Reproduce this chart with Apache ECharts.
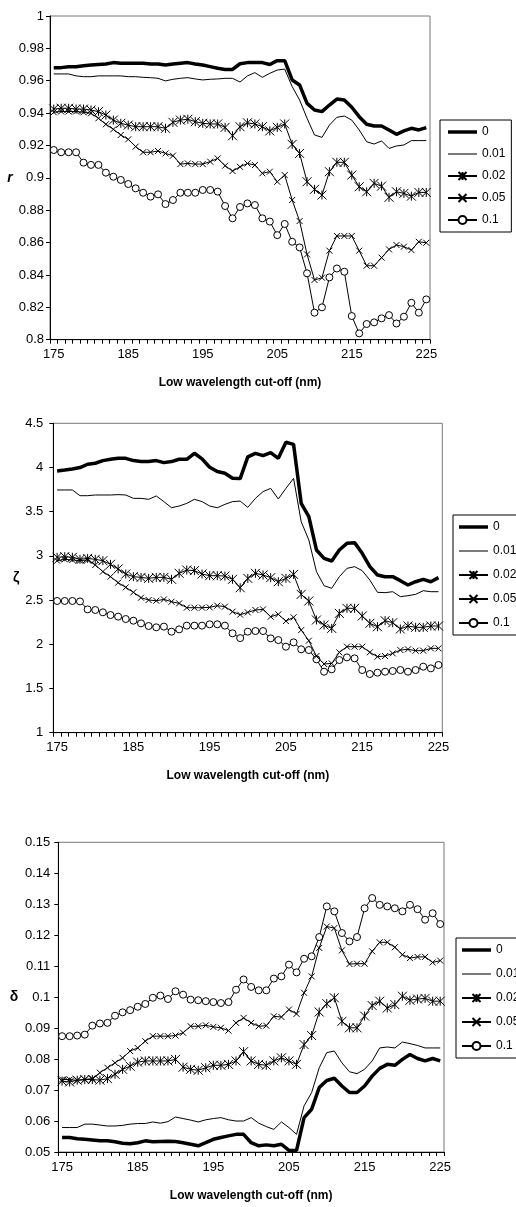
<!DOCTYPE html>
<html><head><meta charset="utf-8">
<script src="https://cdn.jsdelivr.net/npm/echarts@6/dist/echarts.min.js"></script>
<style>
html,body{margin:0;padding:0;background:#fff;overflow:hidden;}
.ch{position:absolute;left:0;width:516px;}
#c1{top:0;height:395px;}
#c2{top:395px;height:395px;}
#c3{top:790px;height:417px;}
</style></head><body>
<div id="c1" class="ch"></div><div id="c2" class="ch"></div><div id="c3" class="ch"></div>
<script>
const categories = ['175','176','177','178','179','180','181','182','183','184','185','186','187','188','189','190','191','192','193','194','195','196','197','198','199','200','201','202','203','204','205','206','207','208','209','210','211','212','213','214','215','216','217','218','219','220','221','222','223','224','225'];
const seriesNames = ['0','0.01','0.02','0.05','0.1'];
const xTitle = 'Low wavelength cut-off (nm)';

// Chart 1: r
const r_0 = [0.9681,0.9681,0.9687,0.9687,0.9693,0.9697,0.9701,0.9703,0.9712,0.9708,0.9708,0.9708,0.9708,0.9703,0.9703,0.9697,0.9703,0.9708,0.9712,0.9703,0.9697,0.9687,0.9677,0.967,0.967,0.9705,0.9712,0.9712,0.9712,0.970,0.9724,0.9724,0.9605,0.9574,0.946,0.9419,0.9409,0.945,0.9487,0.9481,0.9436,0.9378,0.9331,0.932,0.932,0.9296,0.9269,0.929,0.9306,0.9296,0.931];
const r_001 = [0.9642,0.9642,0.9642,0.963,0.9625,0.9625,0.963,0.963,0.963,0.963,0.9625,0.9625,0.9621,0.9619,0.9615,0.9599,0.9609,0.9615,0.9619,0.9611,0.9605,0.9609,0.9611,0.9615,0.9615,0.9592,0.963,0.965,0.9621,0.9646,0.9666,0.9672,0.9564,0.9481,0.9368,0.9265,0.925,0.9326,0.9374,0.9382,0.9357,0.9296,0.9223,0.9209,0.9228,0.9182,0.9197,0.9203,0.923,0.923,0.923];
const r_002 = [0.9425,0.943,0.943,0.9425,0.9425,0.9419,0.9409,0.9388,0.9357,0.9337,0.9326,0.9316,0.9316,0.9316,0.9316,0.9306,0.9343,0.9357,0.9362,0.9347,0.9337,0.9333,0.9333,0.9312,0.926,0.9316,0.934,0.9333,0.9316,0.929,0.9312,0.9333,0.9207,0.9151,0.8976,0.8929,0.8894,0.9038,0.9096,0.9096,0.9017,0.8945,0.8914,0.8966,0.8949,0.888,0.8914,0.8904,0.8887,0.891,0.891];
const r_005 = [0.9405,0.941,0.941,0.941,0.9405,0.9399,0.9368,0.9331,0.93,0.9265,0.9238,0.9193,0.9158,0.9158,0.9166,0.9151,0.9137,0.9085,0.9089,0.9085,0.9085,0.91,0.912,0.9075,0.9042,0.9068,0.9089,0.9079,0.9028,0.9038,0.8976,0.9017,0.8863,0.8733,0.8527,0.8369,0.8383,0.855,0.8641,0.8641,0.8641,0.855,0.8457,0.8457,0.8507,0.8558,0.8585,0.8575,0.8554,0.8605,0.8599];
const r_01 = [0.9172,0.9158,0.9158,0.9158,0.9094,0.908,0.908,0.9032,0.9007,0.8987,0.8962,0.8935,0.8908,0.8884,0.8898,0.8838,0.8863,0.8908,0.8908,0.8908,0.8925,0.8925,0.8915,0.8826,0.875,0.882,0.8842,0.8832,0.875,0.873,0.8646,0.8715,0.8605,0.857,0.841,0.8167,0.82,0.8385,0.844,0.842,0.8146,0.8039,0.8097,0.8107,0.8132,0.8152,0.81,0.8142,0.8228,0.8167,0.8249];

// Chart 2: zeta
const z_0 = [3.961,3.972,3.984,3.999,4.037,4.048,4.078,4.093,4.104,4.104,4.078,4.067,4.067,4.078,4.055,4.067,4.093,4.093,4.161,4.097,4.003,3.954,3.935,3.878,3.875,4.12,4.16,4.134,4.168,4.104,4.285,4.262,3.595,3.444,3.067,2.972,2.942,3.067,3.142,3.15,3.029,2.878,2.784,2.765,2.765,2.72,2.671,2.708,2.735,2.708,2.754];
const z_001 = [3.746,3.746,3.746,3.681,3.681,3.689,3.689,3.689,3.693,3.689,3.651,3.651,3.64,3.678,3.614,3.545,3.564,3.594,3.64,3.614,3.564,3.545,3.583,3.614,3.62,3.549,3.651,3.727,3.764,3.644,3.764,3.877,3.387,3.18,2.822,2.663,2.633,2.765,2.859,2.878,2.833,2.727,2.588,2.584,2.595,2.539,2.55,2.565,2.606,2.595,2.595];
const z_002 = [2.984,2.991,2.984,2.961,2.972,2.961,2.946,2.905,2.852,2.795,2.765,2.757,2.746,2.757,2.757,2.735,2.803,2.84,2.833,2.795,2.776,2.776,2.772,2.735,2.64,2.746,2.803,2.784,2.754,2.708,2.746,2.791,2.565,2.49,2.275,2.218,2.18,2.35,2.407,2.407,2.32,2.237,2.199,2.267,2.244,2.173,2.207,2.192,2.192,2.207,2.207];
const z_005 = [2.946,2.961,2.954,2.946,2.954,2.897,2.822,2.765,2.697,2.644,2.588,2.527,2.501,2.493,2.508,2.482,2.463,2.414,2.414,2.414,2.418,2.437,2.426,2.369,2.335,2.361,2.388,2.395,2.312,2.339,2.263,2.305,2.161,2.041,1.867,1.777,1.784,1.909,1.973,1.973,1.973,1.909,1.86,1.867,1.897,1.935,1.943,1.928,1.928,1.954,1.954];
const z_01 = [2.49,2.49,2.49,2.485,2.395,2.388,2.362,2.331,2.313,2.286,2.267,2.237,2.207,2.192,2.2,2.143,2.169,2.211,2.211,2.211,2.226,2.226,2.211,2.124,2.07,2.143,2.15,2.15,2.067,2.048,1.973,2.022,1.943,1.935,1.83,1.69,1.717,1.822,1.852,1.841,1.709,1.664,1.679,1.69,1.698,1.709,1.69,1.709,1.747,1.728,1.766];

// Chart 3: delta
const d_0 = [0.0547,0.0547,0.0543,0.0541,0.0539,0.0536,0.0536,0.0533,0.0528,0.0527,0.053,0.0536,0.0533,0.0534,0.0535,0.0534,0.053,0.0525,0.052,0.053,0.0541,0.0547,0.0552,0.0557,0.0557,0.053,0.052,0.0523,0.052,0.0525,0.0505,0.0505,0.0611,0.0638,0.0708,0.0731,0.0738,0.0713,0.0692,0.0692,0.0713,0.0745,0.077,0.0783,0.078,0.0799,0.0815,0.0802,0.0794,0.0802,0.0794];
const d_001 = [0.0579,0.0579,0.0579,0.059,0.059,0.0587,0.0584,0.0584,0.0586,0.059,0.0592,0.0592,0.0597,0.0593,0.0598,0.0613,0.0608,0.0603,0.0597,0.0604,0.0608,0.0611,0.0604,0.06,0.06,0.0611,0.0593,0.0582,0.0573,0.0597,0.0579,0.0557,0.0649,0.0692,0.0772,0.0821,0.0826,0.0788,0.0759,0.0753,0.0767,0.0794,0.0836,0.0839,0.0836,0.0855,0.085,0.0844,0.0836,0.0836,0.0836];
const d_002 = [0.0729,0.0726,0.0732,0.0734,0.0734,0.0732,0.0737,0.0751,0.0767,0.0777,0.079,0.0794,0.0794,0.0794,0.0794,0.0799,0.0774,0.0767,0.0764,0.0772,0.078,0.078,0.0783,0.0794,0.0824,0.0794,0.0783,0.078,0.0794,0.0804,0.0794,0.0783,0.0847,0.0876,0.0952,0.0979,0.0998,0.0922,0.0901,0.0901,0.0939,0.0973,0.0987,0.0965,0.0976,0.1003,0.099,0.0994,0.0996,0.0987,0.0987];
const d_005 = [0.0734,0.0734,0.0731,0.0734,0.0737,0.0756,0.0772,0.0788,0.0804,0.0826,0.0836,0.0858,0.0874,0.0874,0.0874,0.0876,0.0885,0.0906,0.0906,0.0909,0.0904,0.0901,0.0892,0.0917,0.0933,0.0917,0.0906,0.0908,0.0938,0.0936,0.096,0.0946,0.1014,0.1067,0.1159,0.1228,0.1223,0.1151,0.1107,0.1108,0.1108,0.1148,0.1177,0.1177,0.1161,0.1137,0.1126,0.113,0.113,0.1112,0.1118];
const d_01 = [0.0874,0.0874,0.0876,0.0879,0.0908,0.0915,0.0917,0.094,0.0951,0.0958,0.0969,0.0978,0.0998,0.1005,0.0994,0.1019,0.1008,0.0992,0.099,0.0987,0.0984,0.0981,0.0984,0.1024,0.1057,0.1033,0.1022,0.1022,0.106,0.1067,0.1105,0.108,0.1124,0.1132,0.1194,0.1293,0.1277,0.1207,0.118,0.1194,0.1287,0.132,0.1298,0.1293,0.1287,0.1277,0.1298,0.1284,0.125,0.1271,0.1236];

const FONT = 'Liberation Sans, Arial, sans-serif';
const ASTER = 'path://M0,0L10,10M0,10L10,0M5,0L5,10';
const XMARK = 'path://M0,0L10,10M0,10L10,0';
const THICK_ICON = 'path://M0,0L100,0L100,12L0,12Z';
const THIN_ICON = 'path://M0,0L100,0L100,3.6L0,3.6Z';

function buildSeries(values, thick) {
  const styles = [
    {lw: thick, symbol: 'none', size: 0},
    {lw: 1, symbol: 'none', size: 0},
    {lw: 1, symbol: ASTER, size: 9},
    {lw: 1, symbol: XMARK, size: 6},
    {lw: 1, symbol: 'circle', size: 7}
  ];
  return values.map((v, k) => {
    const st = styles[k];
    const circle = st.symbol === 'circle';
    return {
      type: 'line', name: seriesNames[k], data: v,
      symbol: st.symbol, symbolSize: st.size, showSymbol: st.symbol !== 'none', showAllSymbol: true,
      lineStyle: {color: '#000', width: st.lw},
      itemStyle: {color: circle ? '#fff' : '#000', borderColor: '#000', borderWidth: 1},
      emphasis: {disabled: true}, silent: true, z: 10 - k
    };
  });
}

function legendData() {
  return [
    {name: seriesNames[0], icon: THICK_ICON, itemStyle: {color: '#000', borderWidth: 0}},
    {name: seriesNames[1], icon: THIN_ICON, itemStyle: {color: '#000', borderWidth: 0}},
    seriesNames[2], seriesNames[3], seriesNames[4]
  ];
}

function makeOption(cfg) {
  return {
    animation: false,
    backgroundColor: '#fff',
    textStyle: {fontFamily: FONT},
    grid: {left: cfg.gl, top: cfg.gt, width: cfg.gw, height: cfg.gh, show: true, borderColor: '#777', borderWidth: 1},
    legend: {
      orient: 'vertical', left: cfg.ll, top: cfg.lt, data: legendData(),
      itemWidth: 29, itemHeight: 10, itemGap: cfg.lgap, padding: cfg.lpad,
      borderColor: '#000', borderWidth: 1, backgroundColor: '#fff',
      textStyle: {fontFamily: FONT, fontSize: 12, color: '#000'}, selectedMode: false
    },
    xAxis: {
      type: 'category', data: categories, boundaryGap: true,
      axisLine: {lineStyle: {color: '#000', width: 1}},
      axisTick: {show: true, interval: 0, length: 4, lineStyle: {color: '#000'}},
      axisLabel: {interval: 9, color: '#000', fontSize: 13, fontFamily: FONT, margin: cfg.xm},
      splitLine: {show: false},
      name: xTitle, nameLocation: 'middle', nameGap: cfg.xng,
      nameTextStyle: {fontFamily: FONT, fontWeight: 'bold', fontSize: 12, color: '#000'}
    },
    yAxis: {
      type: 'value', min: cfg.min, max: cfg.max, interval: cfg.step,
      axisLine: {show: true, lineStyle: {color: '#000', width: 1}},
      axisTick: {show: true, length: 4, lineStyle: {color: '#000'}},
      axisLabel: {color: '#000', fontSize: 13, fontFamily: FONT, margin: cfg.ym,
        formatter: v => String(+v.toFixed(3))},
      splitLine: {show: false},
      name: cfg.yname, nameLocation: 'middle', nameRotate: 0, nameGap: cfg.yng,
      nameTextStyle: {fontFamily: FONT, fontWeight: 'bold', fontStyle: cfg.yital ? 'italic' : 'normal', fontSize: 14, color: '#000'}
    },
    series: buildSeries(cfg.values, cfg.thick)
  };
}

const ch1 = echarts.init(document.getElementById('c1'), null, {renderer: 'canvas'});
ch1.setOption(makeOption({gl: 50, gt: 16, gw: 380, gh: 323.7, ll: 440, lt: 120, lgap: 10, lpad: [6, 6, 6, 7],
  xm: 8, xng: 37, min: 0.8, max: 1, step: 0.02, ym: 6, yname: 'r', yital: true, yng: 34,
  values: [r_0, r_001, r_002, r_005, r_01], thick: 3.5}));

const ch2 = echarts.init(document.getElementById('c2'), null, {renderer: 'canvas'});
ch2.setOption(makeOption({gl: 53.3, gt: 28.3, gw: 389, gh: 309.4, ll: 453, lt: 120, lgap: 12, lpad: [6, 6, 6, 5],
  xm: 8, xng: 37, min: 1, max: 4.5, step: 0.5, ym: 10, yname: 'ζ', yital: false, yng: 33,
  values: [z_0, z_001, z_002, z_005, z_01], thick: 3.5}));

const ch3 = echarts.init(document.getElementById('c3'), null, {renderer: 'canvas'});
ch3.setOption(makeOption({gl: 58.3, gt: 52.3, gw: 385.7, gh: 310.5, ll: 456, lt: 148, lgap: 12, lpad: [6, 6, 6, 5],
  xm: 9, xng: 38, min: 0.05, max: 0.15, step: 0.01, ym: 8, yname: 'δ', yital: false, yng: 40,
  values: [d_0, d_001, d_002, d_005, d_01], thick: 3.5}));
</script>
</body></html>
